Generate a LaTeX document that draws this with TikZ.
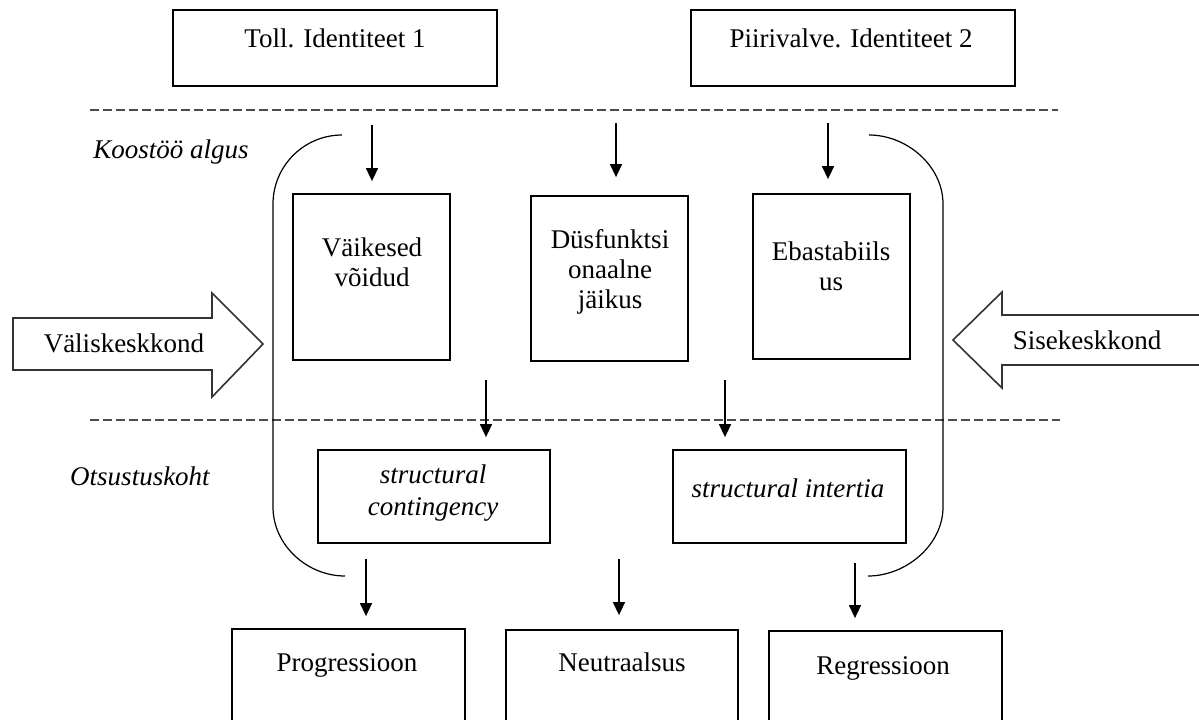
\documentclass[tikz,border=0pt]{standalone}
\usepackage{fontspec}
\setmainfont{Liberation Serif}
\usetikzlibrary{arrows.meta}

\begin{document}
\begin{tikzpicture}[x=0.5pt, y=-0.5pt,
    font=\fontsize{13.5}{15}\selectfont,
    box/.style={draw, line width=0.9pt, inner sep=0pt},
    txt/.style={align=center, inner sep=0pt},
    arr/.style={-{Triangle[length=6.5pt, width=6pt]}, line width=0.75pt, shorten >=6pt},
    sep/.style={dash pattern=on 4.5pt off 2pt, line width=0.8pt, black!70},
    bracket/.style={line width=0.6pt},
    fat/.style={draw, line width=0.8pt, black!80}]
    \useasboundingbox (0,0) rectangle (1199,719);
    \clip (0,0) rectangle (1199,719);

    \node [box, minimum width=162pt, minimum height=38pt] (toll) at (335,48) {};
    \node [box, minimum width=162pt, minimum height=38pt] (piiri) at (853,48) {};
    \node [txt] (toll-t) at (335,38) {Toll. Identiteet 1};
    \node [txt] (piiri-t) at (851,38) {Piirivalve. Identiteet 2};

    \draw [sep] (90,110) -- (1058,110);
    \draw [sep] (90,420) -- (1060,420);

    \node [txt, font=\fontsize{13.5}{15}\selectfont\itshape] (algus) at (171,152) {Koostöö algus};
    \node [txt, font=\fontsize{13.5}{15}\selectfont\itshape] (otsus) at (140,476) {Otsustuskoht};

    \draw [bracket] (342,135) .. controls (304,135) and (273,166) .. (273,204)
        -- (273,507) .. controls (273,545) and (307,576) .. (345,576);
    \draw [bracket] (869,135) .. controls (907,135) and (943,166) .. (943,204)
        -- (943,507) .. controls (943,545) and (906,576) .. (868,576);

    \node [box, minimum width=78.5pt, minimum height=83pt] (vaik) at (371.5,277) {};
    \node [box, minimum width=78.5pt, minimum height=82.5pt] (dys) at (609.5,278.5) {};
    \node [box, minimum width=78.5pt, minimum height=82.5pt] (ebast) at (831.5,276.5) {};
    \node [txt] (vaik-t) at (372,262) {Väikesed\\võidud};
    \node [txt] (dys-t) at (610,272) {Düsfunktsi\\onaalne\\jäikus};
    \node [txt] (ebast-t) at (831,266) {Ebastabiils\\us};

    \node [box, minimum width=116pt, minimum height=46.5pt] (contin) at (434,496.5) {};
    \node [box, minimum width=116.5pt, minimum height=46.5pt] (inert) at (789.5,496.5) {};
    \node [txt, font=\fontsize{13.5}{16}\selectfont\itshape] (contin-t) at (433,493) {structural\\contingency};
    \node [txt, font=\fontsize{13.5}{15}\selectfont\itshape] (inert-t) at (788,488) {structural intertia};

    \node [box, minimum width=116.5pt, minimum height=60pt] (prog) at (348.5,689) {};
    \node [box, minimum width=116pt, minimum height=60pt] (neut) at (622,690) {};
    \node [box, minimum width=116.5pt, minimum height=60pt] (regr) at (885.5,691) {};
    \node [txt, anchor=base] (prog-t) at (347,671) {Progressioon};
    \node [txt, anchor=base] (neut-t) at (622,671) {Neutraalsus};
    \node [txt, anchor=base] (regr-t) at (883,674) {Regressioon};

    \coordinate (a1) at (372,125);
    \coordinate (a2) at (616,123);
    \coordinate (a3) at (828,123);
    \coordinate (b1) at (486,380);
    \coordinate (b2) at (725,380);
    \coordinate (c1) at (366,559);
    \coordinate (c2) at (619,559);
    \coordinate (c3) at (855,563);
    \draw [arr] (a1) -- (a1 |- vaik.north);
    \draw [arr, shorten >=9pt] (a2) -- (a2 |- dys.north);
    \draw [arr, shorten >=7pt] (a3) -- (a3 |- ebast.north);
    \draw [arr] (b1) -- (b1 |- contin.north);
    \draw [arr] (b2) -- (b2 |- inert.north);
    \draw [arr] (c1) -- (c1 |- prog.north);
    \draw [arr, shorten >=7pt] (c2) -- (c2 |- neut.north);
    \draw [arr] (c3) -- (c3 |- regr.north);

    \draw [fat] (13,318) -- (212,318) -- (212,293) -- (263,344) -- (212,397)
        -- (212,370) -- (13,370) -- cycle;
    \draw [fat] (1210,315) -- (1002,315) -- (1002,292) -- (953,340) -- (1002,388)
        -- (1002,365) -- (1210,365);
    \node [txt] (valis) at (124,343) {Väliskeskkond};
    \node [txt] (sise) at (1087,340) {Sisekeskkond};
\end{tikzpicture}
\end{document}
